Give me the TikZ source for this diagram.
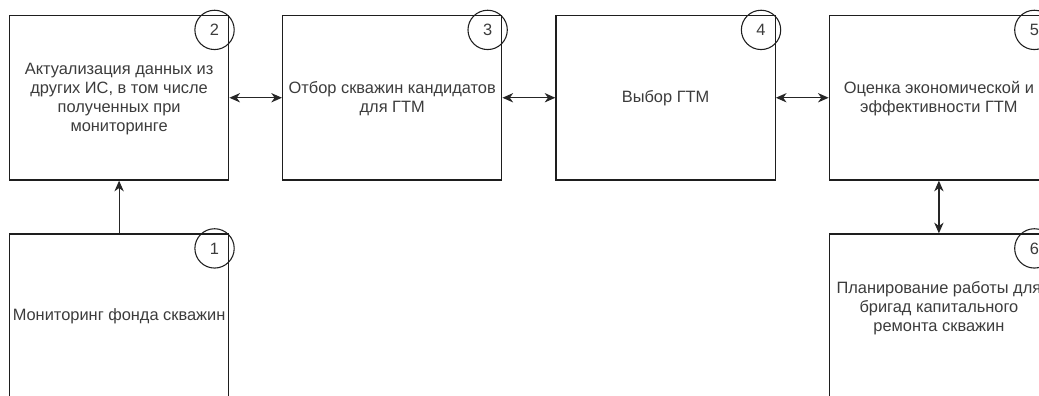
\documentclass[tikz,border=0pt]{standalone}
\usepackage{fontspec}
\setmainfont{Liberation Sans}
\usetikzlibrary{arrows.meta,positioning}
\definecolor{contorno}{HTML}{1E1E1E}
\definecolor{cinza}{HTML}{3C3C3C}

\begin{document}
\begin{tikzpicture}[x=0.75pt, y=-0.75pt, font=\fontsize{12.3}{14.25}\selectfont,
    bloco/.style={draw=contorno, line width=1pt, minimum width=164.4pt, minimum height=123.4pt, inner sep=0pt},
    legenda/.style={text=cinza, align=center, inner sep=0pt},
    marca/.style={draw=contorno, line width=0.8pt, circle, minimum size=29.5pt, inner sep=0pt, text=cinza},
    seta/.style={black!85, line width=0.9pt, {Stealth[length=8pt,width=7pt,inset=2.5pt]}-{Stealth[length=8pt,width=7pt,inset=2.5pt]}},
    subida/.style={black!85, line width=0.9pt, -{Stealth[length=8pt,width=7pt,inset=2.5pt]}}]
        \useasboundingbox (0,0) rectangle (1039,396);
        \clip (0,0) rectangle (1039,396);
        \fill[white] (0,0) rectangle (1039,396);
        \foreach \n/\cx/\cy/\dy/\rotulo in {
            1/119.1/316.25/0.5/{Мониторинг фонда скважин},
            2/119.1/97.75/1.75/{Актуализация данных из\\других ИС, в том числе\\полученных при\\мониторинге},
            3/392.2/97.75/0.75/{Отбор скважин кандидатов\\для ГТМ},
            4/665.6/97.75/0/{Выбор ГТМ},
            5/938.9/97.75/0.75/{Оценка экономической и\\эффективности ГТМ},
            6/938.9/316.25/-8.5/{Планирование работы для\\бригад капитального\\ремонта скважин}}{
          \node[bloco] (b\n) at (\cx,\cy) {};
          \node[legenda] (t\n) at (\cx,\cy+\dy) {\rotulo};
          \node[marca, anchor=north east] (m\n) at ([xshift=-0.4pt, yshift=-0.6pt]b\n.north east) {\n};
        }
        \foreach \a/\b in {2/3, 3/4, 4/5}{
          \draw[seta] (b\a) -- (b\b);
        }
        \draw[subida] (b1) -- (b2);
        \draw[seta] (b5) -- (b6);
      \end{tikzpicture}
\end{document}
